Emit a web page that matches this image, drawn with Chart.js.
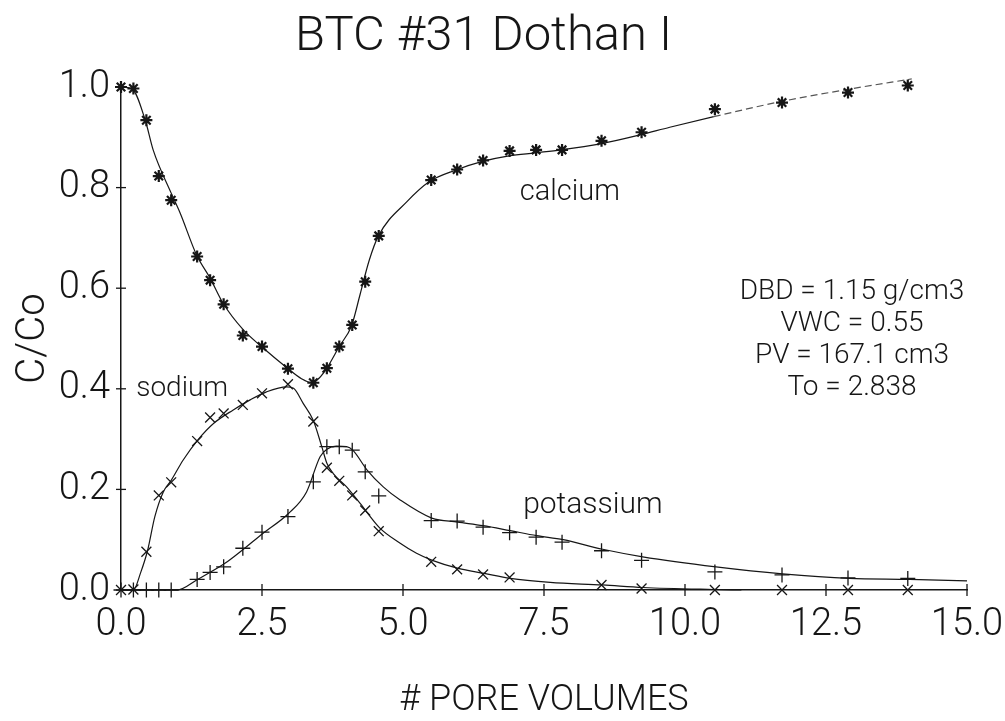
<!DOCTYPE html>
<html>
<head>
<meta charset="utf-8">
<script src="https://cdn.jsdelivr.net/npm/chart.js@4.4.1/dist/chart.umd.min.js"></script>
<style>
  html, body { margin: 0; padding: 0; background: #ffffff; }
  #wrap { width: 1005px; height: 721px; }
</style>
</head>
<body>
<div id="wrap"><canvas id="c" width="1005" height="721"></canvas></div>
<script>
// Breakthrough curve BTC #31, Dothan I soil: relative concentration vs pore volumes.

// Sample positions (pore volumes) shared by all measured series
const poreVolumes = [0.00, 0.22, 0.45, 0.67, 0.89, 1.35, 1.58, 1.82, 2.16, 2.50,
                     2.96, 3.41, 3.65, 3.87, 4.10, 4.33, 4.57, 5.50, 5.96, 6.42,
                     6.89, 7.36, 7.82, 8.52, 9.23, 10.53, 11.72, 12.89, 13.95];

// Measured C/Co
const calcium = [1.000, 0.997, 0.934, 0.823, 0.775, 0.663, 0.616, 0.568, 0.506, 0.484,
                 0.440, 0.412, 0.441, 0.484, 0.527, 0.613, 0.704, 0.815, 0.836, 0.854,
                 0.873, 0.875, 0.875, 0.893, 0.910, 0.956, 0.969, 0.989, 1.003];
const sodium = [0.000, 0.001, 0.076, 0.188, 0.214, 0.296, 0.343, 0.351, 0.368, 0.391,
                0.409, 0.335, 0.243, 0.217, 0.188, 0.158, 0.117, 0.056, 0.041, 0.031,
                0.025, null, null, 0.010, 0.003, 0.000, 0.000, 0.000, 0.000];
const potassium = [0.000, 0.000, 0.000, 0.000, 0.000, 0.021, 0.035, 0.046, 0.083, 0.115,
                   0.146, 0.215, 0.285, 0.285, 0.278, 0.235, 0.187, 0.138, 0.137, 0.125,
                   0.114, 0.105, 0.095, 0.078, 0.059, 0.036, 0.030, 0.024, 0.023];

// Fitted model curves
const calciumFitX = [0.00, 0.19, 0.43, 0.57, 0.89, 1.05, 1.34, 1.58, 1.81, 2.17, 2.49, 2.94,
                     3.20, 3.38, 3.52, 3.65, 3.87, 4.09, 4.24, 4.40, 4.56, 5.07, 5.47,
                     5.94, 6.41, 6.88, 7.34, 7.80, 8.50, 9.21, 9.73, 10.51, 11.70, 12.87, 14.02];
const calciumFitY = [1.000, 0.997, 0.934, 0.875, 0.789, 0.749, 0.666, 0.620, 0.570, 0.517, 0.484, 0.442,
                     0.420, 0.412, 0.422, 0.441, 0.484, 0.526, 0.588, 0.655, 0.703, 0.772, 0.812,
                     0.835, 0.852, 0.863, 0.869, 0.875, 0.887, 0.905, 0.920, 0.941, 0.971, 0.995, 1.016];

const sodiumFitX = [0.00, 0.22, 0.35, 0.47, 0.60, 0.75, 0.89, 1.10, 1.36, 1.64, 1.99, 2.29,
                    2.58, 2.94, 3.06, 3.23, 3.41, 3.56, 3.65, 3.76, 4.00, 4.24, 4.59, 4.95,
                    5.24, 5.52, 5.98, 6.44, 6.90, 7.61, 8.54, 9.25, 10.50, 11.00];
const sodiumFitY = [0.000, 0.000, 0.035, 0.078, 0.146, 0.195, 0.218, 0.258, 0.298, 0.331, 0.358, 0.378,
                    0.394, 0.404, 0.401, 0.371, 0.337, 0.285, 0.252, 0.232, 0.205, 0.172, 0.123, 0.093,
                    0.073, 0.059, 0.043, 0.033, 0.023, 0.015, 0.010, 0.005, 0.001, 0.000];

const potassiumFitX = [0.00, 0.99, 1.37, 1.83, 2.17, 2.51, 2.97, 3.29, 3.53, 3.65, 3.82, 4.00,
                       4.11, 4.36, 4.65, 4.95, 5.51, 5.97, 6.42, 6.90, 7.37, 7.84, 8.54, 9.25,
                       10.55, 11.73, 12.91, 13.98, 15.00];
const potassiumFitY = [0.000, 0.000, 0.022, 0.052, 0.081, 0.112, 0.152, 0.195, 0.265, 0.280, 0.286, 0.285,
                       0.278, 0.239, 0.205, 0.179, 0.143, 0.135, 0.128, 0.118, 0.108, 0.100, 0.081, 0.066,
                       0.046, 0.032, 0.023, 0.021, 0.018];

// Axis ticks and texts
const xTicks = [0, 2.5, 5, 7.5, 10, 12.5, 15];
const yTicks = [0, 0.2, 0.4, 0.6, 0.8, 1.0];
const chartTitle = 'BTC #31 Dothan I';
const xTitle = '# PORE VOLUMES';
const yTitle = 'C/Co';
const seriesNames = ['calcium', 'sodium', 'potassium'];
const columnNotes = ['DBD = 1.15 g/cm3', 'VWC = 0.55', 'PV = 167.1 cm3', 'To = 2.838'];

const INK = '#161616';
const FACE = "Roboto, 'Open Sans', Lato, sans-serif";
const LIGHT = '300';

const toPoints = (xs, ys) => xs.map((x, i) => ({ x: x, y: ys[i] }));

function markerSet(label, values, style, radius, width) {
  return {
    label: label,
    data: toPoints(poreVolumes, values).filter(p => p.y !== null),
    showLine: false,
    pointStyle: style,
    pointRadius: radius,
    pointBorderWidth: width,
    pointBorderColor: INK,
    pointBackgroundColor: INK,
    clip: false,
    order: 1
  };
}

function fitSet(label, xs, ys, extra) {
  return Object.assign({
    label: label,
    data: toPoints(xs, ys),
    showLine: true,
    pointRadius: 0,
    borderColor: INK,
    borderWidth: 1.2,
    cubicInterpolationMode: 'monotone',
    clip: false,
    order: 2
  }, extra || {});
}

// Crossing tick marks on both axes
const crossTicks = {
  id: 'crossTicks',
  afterDatasetsDraw(chart) {
    const ctx = chart.ctx, xs = chart.scales.x, ys = chart.scales.y;
    ctx.save();
    ctx.strokeStyle = INK;
    ctx.lineWidth = 1.3;
    xs.ticks.forEach(t => {
      if (t.value === 0) return;
      const px = xs.getPixelForValue(t.value);
      ctx.beginPath();
      ctx.moveTo(px, ys.bottom - 6);
      ctx.lineTo(px, ys.bottom + 6);
      ctx.stroke();
    });
    ys.ticks.forEach(t => {
      const py = ys.getPixelForValue(t.value);
      ctx.beginPath();
      ctx.moveTo(xs.left - 5, py);
      ctx.lineTo(xs.left + 5, py);
      ctx.stroke();
    });
    ctx.restore();
  }
};

// Curve names and column parameters written inside the plot
const plotNotes = {
  id: 'plotNotes',
  afterDraw(chart) {
    const ctx = chart.ctx, xs = chart.scales.x, ys = chart.scales.y;
    const at = (x, y) => [xs.getPixelForValue(x), ys.getPixelForValue(y)];
    ctx.save();
    ctx.fillStyle = INK;
    ctx.textBaseline = 'alphabetic';
    ctx.textAlign = 'left';
    const spots = { calcium: [7.07, 0.775, 29], sodium: [0.27, 0.386, 28], potassium: [7.13, 0.153, 30] };
    seriesNames.forEach(n => {
      const s = spots[n];
      const p = at(s[0], s[1]);
      ctx.font = LIGHT + ' ' + s[2] + 'px ' + FACE;
      ctx.fillText(n, p[0], p[1]);
    });
    ctx.textAlign = 'center';
    ctx.font = LIGHT + ' 28px ' + FACE;
    const base = at(12.96, 0.5785);
    columnNotes.forEach((line, i) => ctx.fillText(line, base[0], base[1] + i * 32));
    ctx.restore();
  }
};

const tickFont = { family: FACE, size: 38, weight: LIGHT, lineHeight: 1.0 };

new Chart(document.getElementById('c'), {
  type: 'scatter',
  data: {
    datasets: [
      fitSet('calcium fit', calciumFitX, calciumFitY, {
        segment: {
          borderDash: c => (c.p0.parsed.x >= 10.5 ? [7, 4] : undefined),
          borderColor: c => (c.p0.parsed.x >= 10.5 ? '#555555' : INK)
        }
      }),
      fitSet('sodium fit', sodiumFitX, sodiumFitY),
      fitSet('potassium fit', potassiumFitX, potassiumFitY),
      markerSet('calcium', calcium, 'star', 6, 2.2),
      markerSet('sodium', sodium, 'crossRot', 7, 1.3),
      markerSet('potassium', potassium, 'cross', 7.5, 1.3)
    ]
  },
  options: {
    responsive: false,
    animation: false,
    devicePixelRatio: 1,
    layout: { padding: { left: 0, right: 38, top: 0, bottom: 0 } },
    plugins: {
      legend: { display: false },
      tooltip: { enabled: false },
      title: {
        display: true,
        text: chartTitle,
        color: INK,
        font: { family: FACE, size: 49, weight: LIGHT, lineHeight: 1.0 },
        padding: { top: 13, bottom: 25 }
      }
    },
    scales: {
      x: {
        type: 'linear',
        min: 0, max: 15,
        afterBuildTicks: s => { s.ticks = xTicks.map(v => ({ value: v })); },
        afterFit: s => { s.height = 131; s.paddingLeft = 0; s.paddingRight = 0; },
        grid: { display: false },
        border: { display: true, color: INK, width: 1.5 },
        ticks: { color: INK, font: tickFont, padding: 8, maxRotation: 0, callback: v => v.toFixed(1) },
        title: {
          display: true, text: xTitle, color: INK,
          font: { family: FACE, size: 36, weight: LIGHT, lineHeight: 1.0 },
          padding: { top: 0, bottom: 2 }
        }
      },
      y: {
        type: 'linear',
        min: 0, max: 1,
        afterBuildTicks: s => { s.ticks = yTicks.map(v => ({ value: v })); },
        afterFit: s => { s.width = 121; s.paddingTop = 0; s.paddingBottom = 0; },
        grid: { display: false },
        border: { display: true, color: INK, width: 1.5 },
        ticks: { color: INK, font: tickFont, padding: 3, callback: v => v.toFixed(1) },
        title: {
          display: true, text: yTitle, color: INK,
          font: { family: FACE, size: 40, weight: LIGHT, lineHeight: 1.0 },
          padding: { top: 14, bottom: 0 }
        }
      }
    }
  },
  plugins: [crossTicks, plotNotes]
});
</script>
</body>
</html>
